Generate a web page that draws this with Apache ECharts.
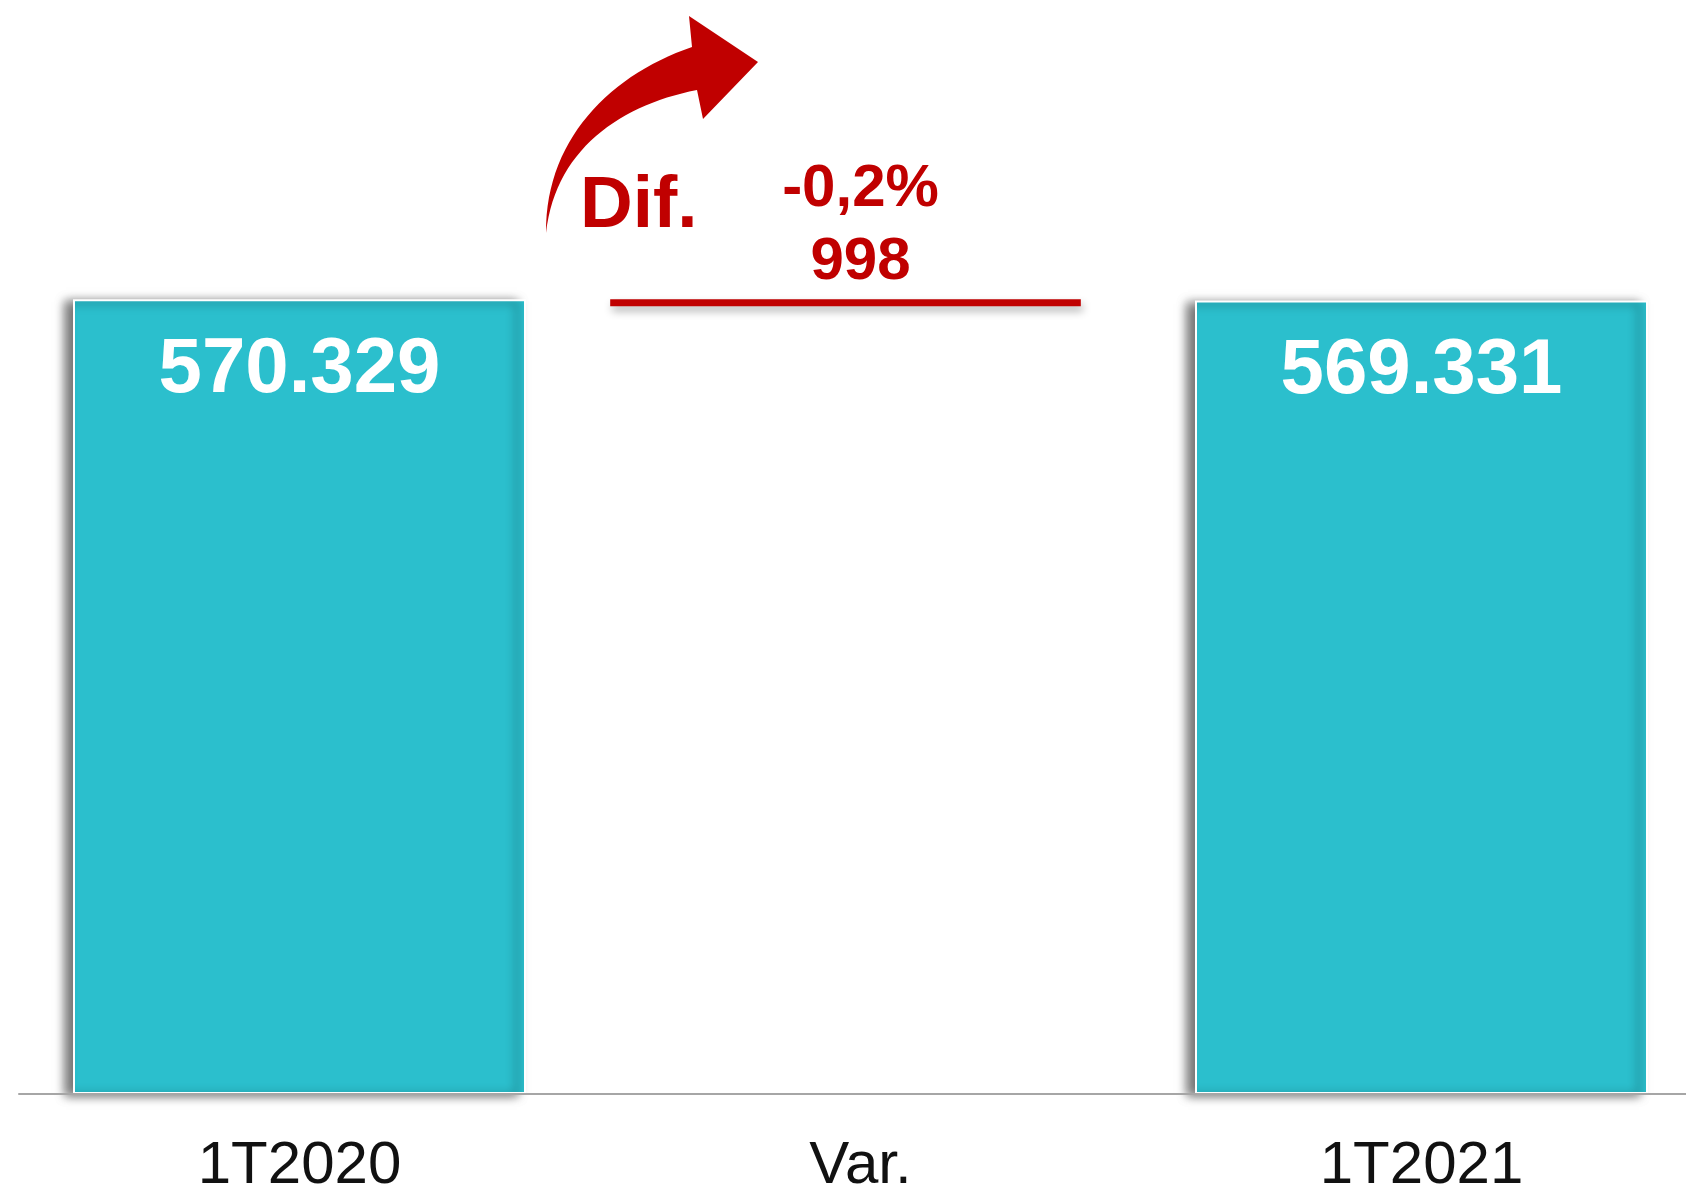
<!DOCTYPE html>
<html>
<head>
<meta charset="utf-8">
<style>
  html, body { margin: 0; padding: 0; background: #ffffff; }
  #chart { width: 1686px; height: 1192px; }
</style>
<script src="https://cdn.jsdelivr.net/npm/echarts@6/dist/echarts.min.js"></script>
</head>
<body>
<div id="chart"></div>
<script>
// ---- data ----
const categories = ['1T2020', 'Var.', '1T2021'];
const periodValues = [570329, null, 569331];
const varBase = [null, 569331, null];
const varDelta = [null, 998, null];
const varPctLabels = [null, '-0,2%', null];
const annotationText = 'Dif.';

// ---- helpers ----
function fmt(v) {
  return String(v).replace(/\B(?=(\d{3})+(?!\d))/g, '.');
}
// sample a cubic bezier into points (for the decorative arrow)
function cubic(p0, p1, p2, p3, n) {
  const pts = [];
  for (let i = 0; i <= n; i++) {
    const t = i / n, u = 1 - t;
    pts.push([
      u*u*u*p0[0] + 3*u*u*t*p1[0] + 3*u*t*t*p2[0] + t*t*t*p3[0],
      u*u*u*p0[1] + 3*u*u*t*p1[1] + 3*u*t*t*p2[1] + t*t*t*p3[1]
    ]);
  }
  return pts;
}

const TEAL = '#2BBFCD';
const RED = '#C00000';
const FONT = '"Liberation Sans", Arial, sans-serif';
const YMAX = 785000;

const arrowPts = []
  .concat(cubic([546,233],[545,140],[610,75],[692,47], 30))
  .concat([[689,16],[758,62],[703,119]])
  .concat(cubic([697,90],[620,105],[555,150],[546,233], 30));

const chart = echarts.init(document.getElementById('chart'), null, { renderer: 'canvas' });

const option = {
  backgroundColor: '#ffffff',
  animation: false,
  grid: [
    { left: 19, width: 1683, top: 0, bottom: 98, containLabel: false, outerBoundsMode: 'none' },
    { left: 4, width: 1683, top: 4, bottom: 98, containLabel: false, outerBoundsMode: 'none' }
  ],
  xAxis: [
    {
      type: 'category',
      gridIndex: 0,
      data: categories,
      z: 5,
      axisLine: { show: true, lineStyle: { color: '#A6A6A6', width: 2 } },
      axisTick: { show: false },
      axisLabel: {
        margin: 42,
        color: '#111111',
        fontFamily: FONT,
        fontSize: 60,
        interval: 0
      },
      splitLine: { show: false }
    },
    {
      type: 'category',
      gridIndex: 1,
      data: categories,
      show: false
    }
  ],
  yAxis: [
    { type: 'value', gridIndex: 0, min: 0, max: YMAX, show: false, splitLine: { show: false } },
    { type: 'value', gridIndex: 1, min: 0, max: YMAX, show: false, splitLine: { show: false } }
  ],
  series: [
    {
      name: 'Periodo',
      type: 'bar',
      xAxisIndex: 0,
      yAxisIndex: 0,
      data: periodValues,
      barWidth: 453,
      itemStyle: {
        color: TEAL,
        borderColor: '#ffffff',
        borderWidth: 2,
        shadowColor: 'rgba(0,0,0,0.55)',
        shadowBlur: 10,
        shadowOffsetX: -8,
        shadowOffsetY: 2
      },
      label: {
        show: true,
        position: 'insideTop',
        distance: 32,
        color: '#ffffff',
        fontFamily: FONT,
        fontWeight: 'bold',
        fontSize: 78,
        formatter: p => (p.value == null ? '' : fmt(p.value))
      }
    },
    {
      name: 'Base',
      type: 'bar',
      xAxisIndex: 1,
      yAxisIndex: 1,
      stack: 'var',
      data: varBase,
      barWidth: 472,
      itemStyle: { color: 'rgba(0,0,0,0)' },
      emphasis: { disabled: true },
      silent: true
    },
    {
      name: 'Dif.',
      type: 'bar',
      xAxisIndex: 1,
      yAxisIndex: 1,
      stack: 'var',
      data: varDelta,
      barWidth: 472,
      itemStyle: {
        color: RED,
        borderColor: RED,
        borderWidth: 7,
        shadowColor: 'rgba(0,0,0,0.3)',
        shadowBlur: 8,
        shadowOffsetX: 2,
        shadowOffsetY: 5
      },
      label: {
        show: true,
        position: 'top',
        distance: 0,
        offset: [15, 0],
        color: RED,
        fontFamily: FONT,
        fontWeight: 'bold',
        fontSize: 60,
        lineHeight: 73,
        align: 'center',
        formatter: p => (p.value == null ? '' : varPctLabels[p.dataIndex] + '\n' + fmt(p.value))
      }
    }
  ],
  graphic: [
    {
      type: 'polygon',
      shape: { points: arrowPts },
      style: { fill: RED }
    },
    {
      type: 'text',
      style: {
        text: annotationText,
        x: 580,
        y: 207,
        fill: RED,
        font: 'bold 73px ' + FONT,
        verticalAlign: 'middle',
        align: 'left'
      }
    }
  ]
};

chart.setOption(option);
</script>
</body>
</html>
